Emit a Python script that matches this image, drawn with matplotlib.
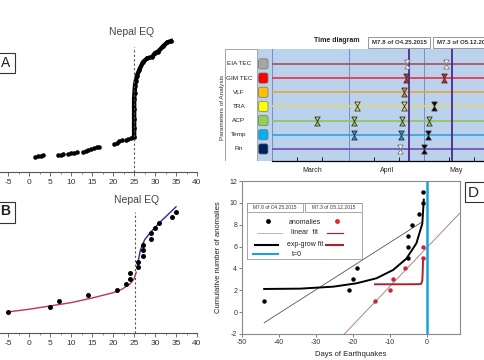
import matplotlib
matplotlib.use('Agg')
import matplotlib.pyplot as plt
from matplotlib.patches import Rectangle, FancyBboxPatch
from matplotlib.lines import Line2D

plt.rcParams['font.family'] = ['Liberation Sans', 'DejaVu Sans']
plt.rcParams['axes.unicode_minus'] = False

# ---------------- data ----------------
# A: cumulative anomaly curve around the Nepal EQ (day 25)
a_pre_days = [1.4, 2.0, 2.7, 3.3, 6.9, 7.5, 8.1, 9.3, 10.0, 10.7, 11.4, 12.9, 13.5, 14.0,
              14.8, 15.5, 16.2, 16.6, 20.3, 20.9, 21.5, 22.0, 23.0, 23.6, 24.2, 24.8]
a_pre_vals = [11.4, 11.9, 12.4, 12.9, 12.9, 13.2, 13.6, 13.6, 14.2, 14.7, 15.2, 15.2, 15.9, 16.7,
              17.4, 18.1, 18.9, 19.0, 21.2, 22.2, 23.2, 24.2, 24.2, 25.0, 25.8, 26.5]
a_post_days = [25.0, 25.0, 25.0, 25.0, 25.0, 25.1, 25.2, 25.4, 25.7, 26.2, 27.1, 28.1, 29.3,
               30.0, 30.7, 31.9, 32.9, 33.8]
a_post_vals = [26.5, 33, 40, 48, 55, 60, 65, 69, 73, 77, 83, 86, 87, 90, 91, 95, 98, 99]

# B: anomalies with pre / post fits
b_days = [-5, 5, 7, 14, 21, 23, 24, 24, 26, 26, 27, 27, 27, 29, 29, 30, 31, 34, 35]
b_vals = [15.9, 19.7, 24.2, 28.8, 32.6, 37.1, 40.9, 45.5, 50, 53.8, 58.3, 62.9, 66.7,
          71.2, 75.8, 79.5, 83.3, 87.9, 91.7]
b_pre_fit_x = [-5, 0, 5, 10, 15, 20, 22, 24, 25, 25.5]
b_pre_fit_y = [16, 18, 20.5, 23, 26.5, 30.5, 33, 37, 41, 46]
b_post_fit_x = [25.8, 26.5, 27.5, 29, 31, 33, 35]
b_post_fit_y = [51.5, 62.9, 70.5, 76.5, 83.3, 89.4, 95.5]

# C: time diagram, days counted from 1 March 2015
params = ['EIA TEC', 'GIM TEC', 'VLF', 'TRA', 'ACP', 'Temp', 'Rn']
row_colors = ['#a24e5e', '#e8323e', '#e3a53a', '#dcdc72', '#8dc653', '#2fa2e0', '#6b4fae']
swatch_colors = ['#a6a6a6', '#ff0000', '#ffc000', '#ffff00', '#92d050', '#00b0f0', '#002060']
anom_days = [[54, 69.6], [53.6, 69], [52.8], [34, 52.8, 65], [18, 33, 52, 63],
             [33, 51.6, 62.4], [51.2, 60.8]]
anom_colors = [['white', 'white'], ['#e0202c', '#e0202c'], ['#d9843c'],
               ['#e6df5a', '#e6df5a', 'black'], ['#9ccf5a', '#9ccf5a', '#9ccf5a', '#9ccf5a'],
               ['#2a8fd0', '#2a8fd0', 'black'], ['white', 'black']]
month_names = ['March', 'April', 'May']
month_mid = [16, 46, 73.5]
month_starts = [0, 31, 61]
eq_days = [55, 72]

# D: cumulative number of anomalies vs days to earthquakes
d_black_days = [-44, -21, -20, -19, -5, -5, -5, -4, -2, -1, -1]
d_black_count = [1, 2, 3, 4, 5, 6, 7, 8, 9, 10, 11]
d_red_days = [-14, -10, -9, -6, -1, -1]
d_red_count = [1, 2, 3, 4, 5, 6]
d_black_lin_x = [-44, -1.2]
d_black_lin_y = [-0.97, 8.27]
d_red_lin_x = [-22.3, 8.9]
d_red_lin_y = [-2, 9.04]
d_black_exp_x = [-44, -34.3, -25.3, -19, -13.6, -9.1, -5.5, -2.8, -1.2, -0.8]
d_black_exp_y = [2.12, 2.15, 2.33, 2.64, 3.1, 3.86, 4.9, 6.3, 8.1, 10.3]
d_red_exp_x = [-14, -5, -2, -1.5, -1.2, -1.1, -1.0]
d_red_exp_y = [2.55, 2.55, 2.56, 2.6, 2.9, 3.6, 4.9]

W, H = 485, 360
fig = plt.figure(figsize=(W / 100, H / 100), dpi=100)


def box(x0, y0, x1, y1):
    return [x0 / W, 1 - y1 / H, (x1 - x0) / W, (y1 - y0) / H]


def label_box(x0, y0, x1, y1, letter, tx, ty, size, weight='normal'):
    fig.patches.append(Rectangle((x0 / W, 1 - y1 / H), (x1 - x0) / W, (y1 - y0) / H,
                                 transform=fig.transFigure, fill=False, ec='#333333', lw=0.8))
    fig.text(tx / W, 1 - ty / H, letter, ha='center', va='center', fontsize=size,
             fontweight=weight, color='#222222')


def style_ab(ax):
    for s in ['left', 'top', 'right']:
        ax.spines[s].set_visible(False)
    ax.spines['bottom'].set_color('#555555')
    ax.spines['bottom'].set_linewidth(0.8)
    ax.set_xlim(-7, 40)
    ax.set_xticks(range(-5, 41, 5))
    ax.set_xticks([x + 2.5 for x in range(-5, 40, 5)], minor=True)
    ax.set_yticks([])
    ax.tick_params(axis='x', which='major', length=3, width=0.6, color='#555555',
                   labelsize=6, labelcolor='#333333', pad=2)
    ax.tick_params(axis='x', which='minor', length=1.5, width=0.5, color='#555555')
    ax.patch.set_alpha(0)


# ---------------- panel A ----------------
axA = fig.add_axes(box(0, 20, 197, 172))
style_ab(axA)
axA.set_ylim(0, 115)
axA.plot(a_pre_days, a_pre_vals, 'o', color='black', ms=3.3, mew=0)
axA.plot(a_post_days, a_post_vals, '-o', color='black', lw=3.2, ms=3.3, mew=0)
axA.axvline(25, ymax=94.7 / 115, color='#555555', ls=(0, (2, 2)), lw=0.8)
axA.text(24.5, 106, 'Nepal EQ', ha='center', va='center', fontsize=7.5, color='#444444')
label_box(-5, 53, 15, 73, 'A', 5.5, 63, 10)

# ---------------- panel B ----------------
axB = fig.add_axes(box(0, 185, 197, 333))
style_ab(axB)
axB.set_ylim(0, 112)
axB.plot(b_pre_fit_x, b_pre_fit_y, color='#c0344c', lw=1)
axB.plot(b_post_fit_x, b_post_fit_y, color='#2b2b9c', lw=1)
axB.plot(b_days, b_vals, 'o', color='black', ms=3.6, mew=0)
axB.axvline(25.3, ymax=91.7 / 112, color='#555555', ls=(0, (2, 2)), lw=0.8)
axB.text(25.7, 100.7, 'Nepal EQ', ha='center', va='center', fontsize=7.5, color='#444444')
label_box(-5, 202, 15, 223, 'B', 5, 211, 10, 'bold')

# ---------------- panel C ----------------
bg = '#bcd2ec'
rows = list(range(len(params), 0, -1))
axL = fig.add_axes(box(225, 49, 272, 161))
axL.set_facecolor(bg)
axL.set_xlim(0, 47)
axL.set_ylim(0.15, 8.05)
for s in axL.spines.values():
    s.set_visible(False)
axL.set_xticks([])
axL.set_yticks([])
axL.axvspan(0, 32, color='white', ec='#999999', lw=0.6)
for name, y, sc in zip(params, rows, swatch_colors):
    axL.text(14, y, name, ha='center', va='center', fontsize=4.6, color='#222222')
    axL.add_patch(FancyBboxPatch((33.5, y - 0.36), 9.5, 0.72,
                                 boxstyle='round,pad=0,rounding_size=2',
                                 mutation_aspect=1 / 14.2, fc=sc, ec='#777777', lw=0.5))

axC = fig.add_axes(box(272, 49, 485, 161))
axC.set_facecolor(bg)
axC.set_xlim(0, 85.2)
axC.set_ylim(0.15, 8.05)
for s in ['top', 'right', 'left']:
    axC.spines[s].set_visible(False)
axC.spines['bottom'].set_linestyle((0, (1, 1)))
axC.spines['bottom'].set_linewidth(0.9)
axC.set_yticks([])
axC.set_xticks([0, 10, 20, 31, 41, 51, 61, 71, 81])
axC.tick_params(axis='x', which='major', direction='in', length=3, width=0.6,
                labelbottom=False)
for m in month_starts:
    axC.axvline(m, color='#7190c4', lw=0.7)
for y, c in zip(rows, row_colors):
    axC.axhline(y, color=c, lw=1.2)
for e in eq_days:
    axC.axvline(e, color='#4a2b8c', lw=1.3)
hourglass = [(-0.6, 1), (0.6, 1), (-0.6, -1), (0.6, -1), (-0.6, 1)]
for y, days, cols in zip(rows, anom_days, anom_colors):
    for d, c in zip(days, cols):
        ec = '#777777' if c == 'white' else '#333333'
        axC.plot(d, y, marker=hourglass, ms=6.5, mfc=c, mec=ec, mew=0.6, ls='none')
for name, xm in zip(month_names, month_mid):
    axC.text(xm, -0.3, name, ha='center', va='top', fontsize=5, color='#222222')
fig.text(223 / W, 1 - 107 / H, 'Parameters of Analysis', rotation=90, ha='center',
         va='center', fontsize=4.6, color='#333333')
fig.text(337 / W, 1 - 41 / H, 'Time diagram', ha='center', va='center', fontsize=5,
         fontweight='bold', color='#222222')
for x0, x1, txt in [(368, 430, 'M7.8 of O4.25.2015'), (433, 500, 'M7.3 of O5.12.2015')]:
    fig.patches.append(Rectangle((x0 / W, 1 - 48 / H), (x1 - x0) / W, 11 / H,
                                 transform=fig.transFigure, fc='white', ec='#888888', lw=0.6))
    fig.text((x0 + 4) / W, 1 - 42.5 / H, txt, ha='left', va='center', fontsize=4.4,
             fontweight='bold', color='#333333')

# ---------------- panel D ----------------
axD = fig.add_axes(box(242, 181, 460, 334))
axD.set_xlim(-50, 9)
axD.set_ylim(-2, 12)
axD.set_xticks(range(-50, 1, 10))
axD.set_yticks(range(-2, 13, 2))
for s in axD.spines.values():
    s.set_color('#8a8a8a')
    s.set_linewidth(0.8)
axD.tick_params(length=2, width=0.6, color='#666666', labelsize=5, labelcolor='#333333', pad=1.5)
axD.plot(d_black_lin_x, d_black_lin_y, color='#555555', lw=0.6)
axD.plot(d_red_lin_x, d_red_lin_y, color='#a87070', lw=0.6)
axD.plot(d_black_exp_x, d_black_exp_y, color='black', lw=1.4)
axD.plot(d_red_exp_x, d_red_exp_y, color='#b0202a', lw=1.4)
axD.axvline(0, color='#19a3d6', lw=1.8)
axD.plot(d_black_days, d_black_count, 'o', color='black', ms=3.2, mew=0)
axD.plot(d_red_days, d_red_count, 'o', color='#c42838', ms=3.2, mew=0)
axD.set_xlabel('Days of Earthquakes', fontsize=5.5, color='#222222', labelpad=4)
axD.set_ylabel('Cumulative number of anomalies', fontsize=5.5, color='#222222', labelpad=5)
label_box(465, 182, 505, 202, 'D', 473, 193, 11)

# legend table of panel D
axG = fig.add_axes(box(247, 203, 362, 259))
axG.set_xlim(0, 115)
axG.set_ylim(56, 0)
axG.set_xticks([])
axG.set_yticks([])
for s in axG.spines.values():
    s.set_color('#999999')
    s.set_linewidth(0.6)
for x0, x1, txt in [(0, 56, 'M7.8 of O4.25.2015'), (58, 115, 'M7.3 of O5.12.2015')]:
    axG.add_patch(Rectangle((x0, 0), x1 - x0, 9, fc='white', ec='#999999', lw=0.6))
    axG.text((x0 + x1) / 2, 4.7, txt, ha='center', va='center', fontsize=3.5, color='#333333')
axG.add_line(Line2D([21], [18], marker='o', color='black', ms=3.5, mew=0))
axG.add_line(Line2D([90], [18], marker='o', color='#e02830', ms=3.5, mew=0))
axG.text(58, 19, 'anomalies', ha='center', va='center', fontsize=5, color='#222222')
axG.add_line(Line2D([10, 35], [30, 30], color='#aaaaaa', lw=0.6))
axG.add_line(Line2D([80, 96], [30, 30], color='#8a3040', lw=0.9))
axG.text(58, 30, 'linear  fit', ha='center', va='center', fontsize=5, color='#222222')
axG.add_line(Line2D([8, 31], [42, 42], color='black', lw=1.5))
axG.add_line(Line2D([79, 96], [42, 42], color='#b0202a', lw=1.5))
axG.text(58, 42, 'exp-grow fit', ha='center', va='center', fontsize=5, color='#222222')
axG.add_line(Line2D([6, 31], [51, 51], color='#19a3d6', lw=1.5))
axG.text(50, 51, 't=0', ha='center', va='center', fontsize=5, color='#222222')

fig.savefig('out.png', dpi=100)
